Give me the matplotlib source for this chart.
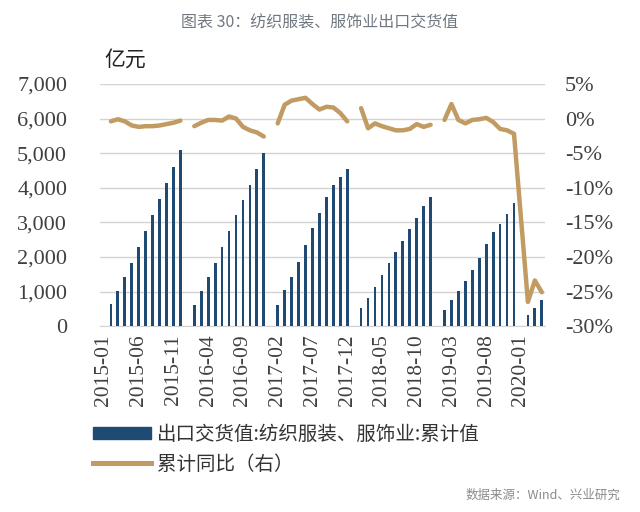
import matplotlib
matplotlib.use("Agg")
import matplotlib.pyplot as plt
from matplotlib.lines import Line2D
from matplotlib.patches import Patch
import numpy as np
import pandas as pd

plt.rcParams['font.family'] = ['Noto Sans CJK SC', 'DejaVu Sans']

# monthly categories 2015-01 .. 2020-04 (January is not published on its own)
months = [p.strftime('%Y-%m') for p in pd.period_range('2015-01', '2020-04', freq='M')]

# cumulative export delivery value, Feb..Dec of each year (亿元)
value_2015 = [636, 1022, 1407, 1812, 2275, 2747, 3210, 3673, 4136, 4598, 5100]
value_2016 = [617, 1012, 1407, 1812, 2275, 2747, 3210, 3654, 4078, 4531, 4994]
value_2017 = [617, 1031, 1427, 1861, 2343, 2825, 3268, 3731, 4078, 4319, 4531]
value_2018 = [520, 819, 1128, 1465, 1822, 2130, 2468, 2815, 3133, 3480, 3731]
value_2019 = [463, 743, 1012, 1301, 1629, 1966, 2381, 2709, 2950, 3239, 3557]
value_2020 = [308, 530, 743]

# cumulative yoy growth (%), Feb..Dec
yoy_2015 = [-0.4, -0.1, -0.4, -1.0, -1.2, -1.1, -1.1, -1.0, -0.8, -0.6, -0.3]
yoy_2016 = [-1.1, -0.6, -0.2, -0.2, -0.3, 0.3, 0.0, -1.2, -1.7, -2.0, -2.6]
yoy_2017 = [-0.7, 2.0, 2.6, 2.8, 3.0, 2.1, 1.3, 1.7, 1.6, 0.8, -0.4]
yoy_2018 = [1.5, -1.4, -0.7, -1.1, -1.4, -1.7, -1.7, -1.5, -0.8, -1.2, -0.9]
yoy_2019 = [-0.2, 2.1, -0.2, -0.7, -0.2, -0.1, 0.1, -0.5, -1.5, -1.7, -2.2]
yoy_2020 = [-26.5, -23.4, -25.1]

values = []
yoy = []
for v, g in [(value_2015, yoy_2015), (value_2016, yoy_2016), (value_2017, yoy_2017),
             (value_2018, yoy_2018), (value_2019, yoy_2019), (value_2020, yoy_2020)]:
    values += [np.nan] + v
    yoy += [np.nan] + g
values = np.array(values)
yoy = np.array(yoy)
x = np.arange(len(months))

bar_color = '#1f4a73'
line_color = '#c19b62'
grid_color = '#d3d3d3'
tick_font = ['Liberation Serif', 'DejaVu Serif']

fig = plt.figure(figsize=(6.4, 5.12), dpi=100)
ax = fig.add_axes([0.157, 0.363, 0.695, 0.473])
ax2 = ax.twinx()

ax.bar(x, values, width=0.4, color=bar_color, zorder=3)

# line breaks at each January, except 2020 where it is drawn straight through
keep = np.array([m != '2020-01' for m in months])
ax2.plot(x[keep], yoy[keep], color=line_color, lw=3.2, solid_capstyle='round', zorder=4)

ax.set_xlim(-0.5, len(months) - 0.5)
ax.set_ylim(0, 7000)
ax.set_yticks(np.arange(0, 7001, 1000))
ax.set_yticklabels([f'{v:,}' for v in range(0, 7001, 1000)])
ax2.set_ylim(-30, 5)
ax2.set_yticks(np.arange(-30, 6, 5))
ax2.set_yticklabels([f'{v}%' for v in range(-30, 6, 5)])

ax.grid(axis='y', color=grid_color, lw=1, zorder=0)
ax.set_axisbelow(True)
for a in (ax, ax2):
    for s in a.spines.values():
        s.set_visible(False)
    a.tick_params(length=0, colors='#404040', labelsize=16)
ax.spines['bottom'].set_visible(True)
ax.spines['bottom'].set_color(grid_color)

ax.set_xticks(x[::5])
ax.set_xticklabels(months[::5], rotation=90, family=tick_font, fontsize=15.5)
for lab in ax.get_yticklabels() + ax2.get_yticklabels():
    lab.set_family(tick_font)
ax.tick_params(axis='y', pad=24)
ax.tick_params(axis='x', pad=6)
ax2.tick_params(axis='y', pad=14)

fig.text(0.163, 0.872, '亿元', fontsize=15, color='#222222')
fig.text(0.5, 0.955, '图表 30：纺织服装、服饰业出口交货值', fontsize=11.5,
         color='#6f7780', ha='center', va='center')
fig.text(0.97, 0.033, '数据来源：Wind、兴业研究', fontsize=9, color='#8a8a8a',
         ha='right', va='center')

handles = [Patch(color=bar_color), Line2D([0], [0], color=line_color, lw=3.6)]
labels = ['出口交货值:纺织服装、服饰业:累计值', '累计同比（右）']
fig.legend(handles, labels, loc='upper left', bbox_to_anchor=(0.145, 0.172),
           frameon=False, fontsize=14, handlelength=3.0, handleheight=0.6,
           labelspacing=0.45, handletextpad=0.3, labelcolor='#333333',
           borderaxespad=0, borderpad=0)

fig.savefig('out.png', dpi=100)
